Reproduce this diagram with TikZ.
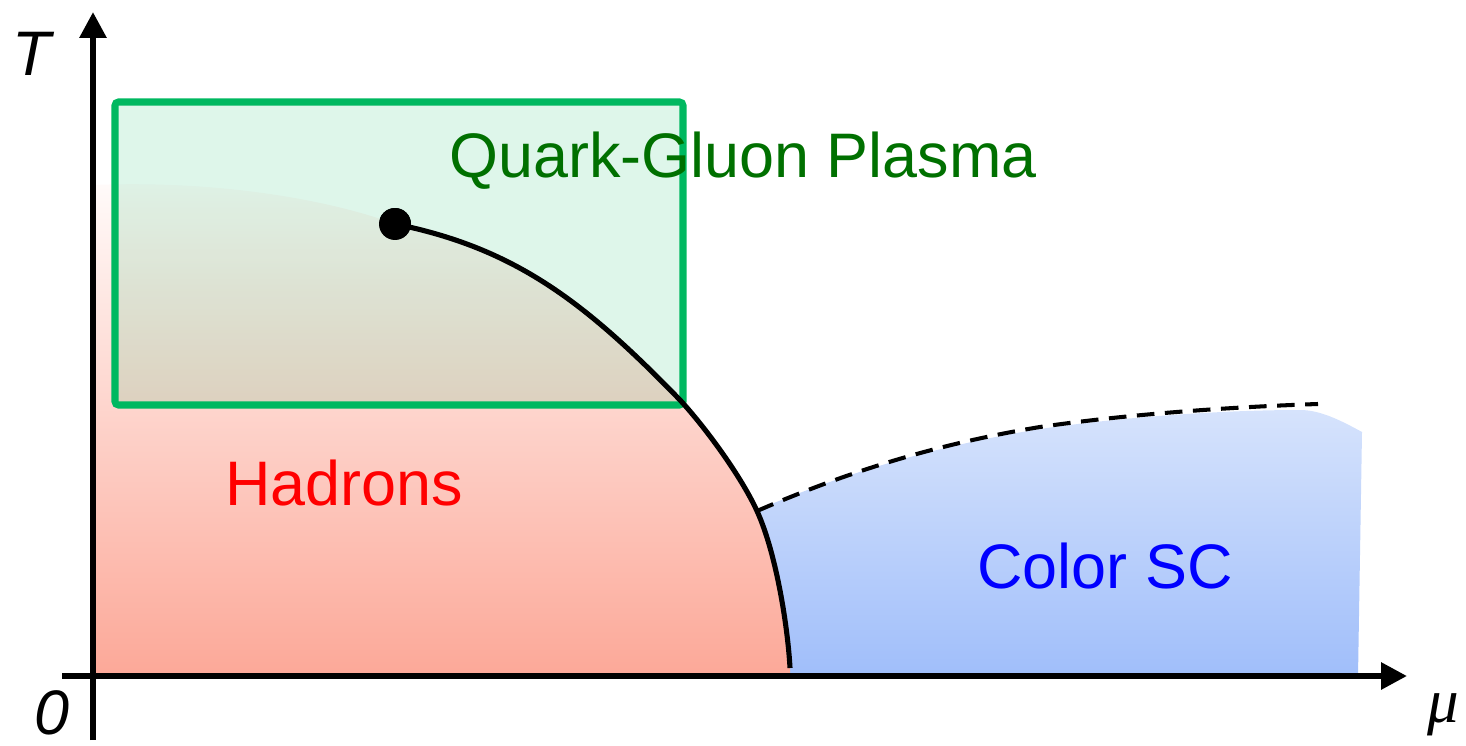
\documentclass[tikz,border=0pt]{standalone}
\usepackage{amsmath}
\usepackage{fontspec}
\setmainfont{Liberation Sans}
\newfontfamily\greekfont{Liberation Serif}
\usetikzlibrary{arrows.meta}

\definecolor{qgpgreen}{RGB}{0,184,96}
\definecolor{qgptext}{RGB}{0,112,0}
\definecolor{hadtop}{RGB}{255,251,250}
\definecolor{hadbot}{RGB}{252,168,152}
\definecolor{sctop}{RGB}{214,227,252}
\definecolor{scbot}{RGB}{160,190,250}

\tikzset{
  axis/.style={line width=3.4pt, -{Triangle[length=0.52cm,width=0.52cm]}},
  phaseline/.style={line width=2.9pt},
  crossover/.style={line width=2.3pt, dash pattern=on 10pt off 6pt},
  qgpbox/.style={draw=qgpgreen, line width=4pt, fill=qgpgreen, fill opacity=0.13, rounded corners=2pt},
  biglabel/.style={font=\fontsize{35.8}{43}\selectfont, anchor=base, inner sep=0pt}
}

\begin{document}
\begin{tikzpicture}[x=0.02cm, y=-0.02cm]
        \useasboundingbox (0,0) rectangle (1466,746);

        % Punts de referencia
        \coordinate (tp) at (757,511);
        \node[circle, fill=black, inner sep=0pt, minimum size=0.64cm] (cp) at (395,224) {};

        % Fase superconductora (blau)
        \shade[top color=sctop, bottom color=scbot]
              (752,512) .. controls (840,475) and (930,447) .. (1040,429)
              .. controls (1130,416) and (1230,410) .. (1300,410)
              .. controls (1320,410) and (1340,420) .. (1362,432)
              -- (1358,676) -- (782,676) -- cycle;

        % Fase hadronica (vermell)
        \shade[top color=hadtop, bottom color=hadbot]
              (93,676) -- (93,185) .. controls (220,180) and (330,200) .. (395,224)
              .. controls (515,248) and (585,302) .. (680,400)
              .. controls (705,427) and (741,476) .. (757,511)
              .. controls (777,555) and (788,630) .. (790,668)
              -- (790,676) -- cycle;

        % Regio del plasma
        \draw[qgpbox] (115,102) rectangle (683,405);

        % Linia de transicio i crossover
        \draw[phaseline] (cp.center) .. controls (515,248) and (585,302) .. (680,400)
              .. controls (705,427) and (741,476) .. (tp)
              .. controls (777,555) and (788,630) .. (790,668);
        \draw[crossover] (tp) .. controls (840,475) and (930,445) .. (1040,427)
              .. controls (1130,414) and (1230,407) .. (1318,404);
        \node[circle, fill=black, inner sep=0pt, minimum size=0.64cm] at (cp) {};

        % Eixos
        \draw[axis] (93,740) -- (93,12);
        \draw[axis] (62,676) -- (1407,676);
        \node[biglabel] (tlabel) at (34,76) {\textit{T}};
        \node[biglabel] (zlabel) at (52,734) {\textit{0}};
        \node[biglabel] (mulabel) at (1443,722) {\greekfont\itshape μ};

        % Noms de les fases
        \node[biglabel, text=qgptext] (qgp) at (743,178) {Quark-Gluon Plasma};
        \node[biglabel, text=red] (had) at (344,505) {Hadrons};
        \node[biglabel, text=blue] (csc) at (1105,588) {Color SC};
\end{tikzpicture}
\end{document}
